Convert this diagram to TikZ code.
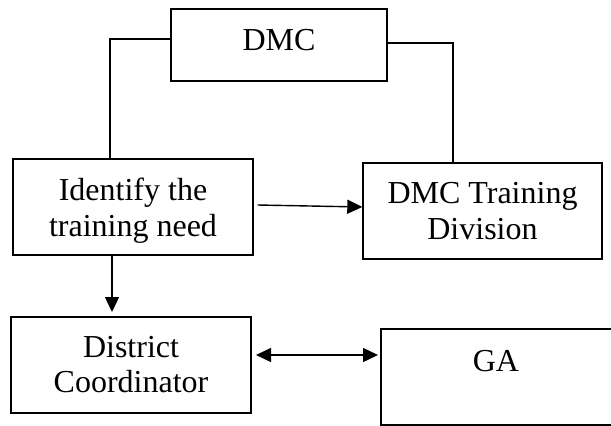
\documentclass[tikz,border=0pt]{standalone}
\usepackage{fontspec}
\setmainfont{Liberation Serif}
\usetikzlibrary{arrows.meta}

\tikzset{
  box/.style={draw=black, line width=1.4pt, rectangle, inner sep=0pt},
  txt/.style={inner sep=0pt, anchor=base, font=\fontsize{32}{37}\selectfont},
  link/.style={draw=black, line width=1.4pt},
  arr/.style={link, -{Triangle[length=15pt,width=14pt]}},
  darr/.style={link, {Triangle[length=15pt,width=14pt]}-{Triangle[length=15pt,width=14pt]}}
}

\begin{document}
\begin{tikzpicture}[x=1pt, y=-1pt]
  \useasboundingbox (0,0) rectangle (611,426);

  % boxes
  \node[box, minimum width=216pt, minimum height=72pt] (dmc) at (279,45) {};
  \node[box, minimum width=240pt, minimum height=96pt] (need) at (133,207) {};
  \node[box, minimum width=239pt, minimum height=96pt] (train) at (482.5,211) {};
  \node[box, minimum width=240pt, minimum height=96pt] (dc) at (131,365) {};
  \node[box, minimum width=232pt, minimum height=96pt] (ga) at (497,377) {};

  % labels
  \node[txt] (dmcT) at (279,50) {DMC};
  \node[txt] (needA) at (133,200) {Identify the};
  \node[txt] (needB) at (133,236) {training need};
  \node[txt] (trainA) at (482.5,203) {DMC Training};
  \node[txt] (trainB) at (482.5,239) {Division};
  \node[txt] (dcA) at (131,357) {District};
  \node[txt] (dcB) at (131,392) {Coordinator};
  \node[txt] (gaT) at (496,371) {GA};

  % bend points and free ends of the links
  \coordinate (lTop) at (110,39);
  \coordinate (rTop) at (453,43);
  \coordinate (dTop) at (112,255);
  \coordinate (dEnd) at (112,312);
  \coordinate (hL) at (256,355);
  \coordinate (hR) at (378,355);

  % connectors
  \draw[link] (dmc.west |- lTop) -- (lTop) -- (lTop |- need.north);
  \draw[link] (dmc.east |- rTop) -- (rTop) -- (rTop |- train.north);
  \draw[arr] ([xshift=4pt,yshift=2pt]need.east) -- ([yshift=4pt]train.west);
  \draw[arr] (dTop |- need.south) -- (dEnd);
  \draw[darr] (hL) -- (hR);
\end{tikzpicture}
\end{document}
